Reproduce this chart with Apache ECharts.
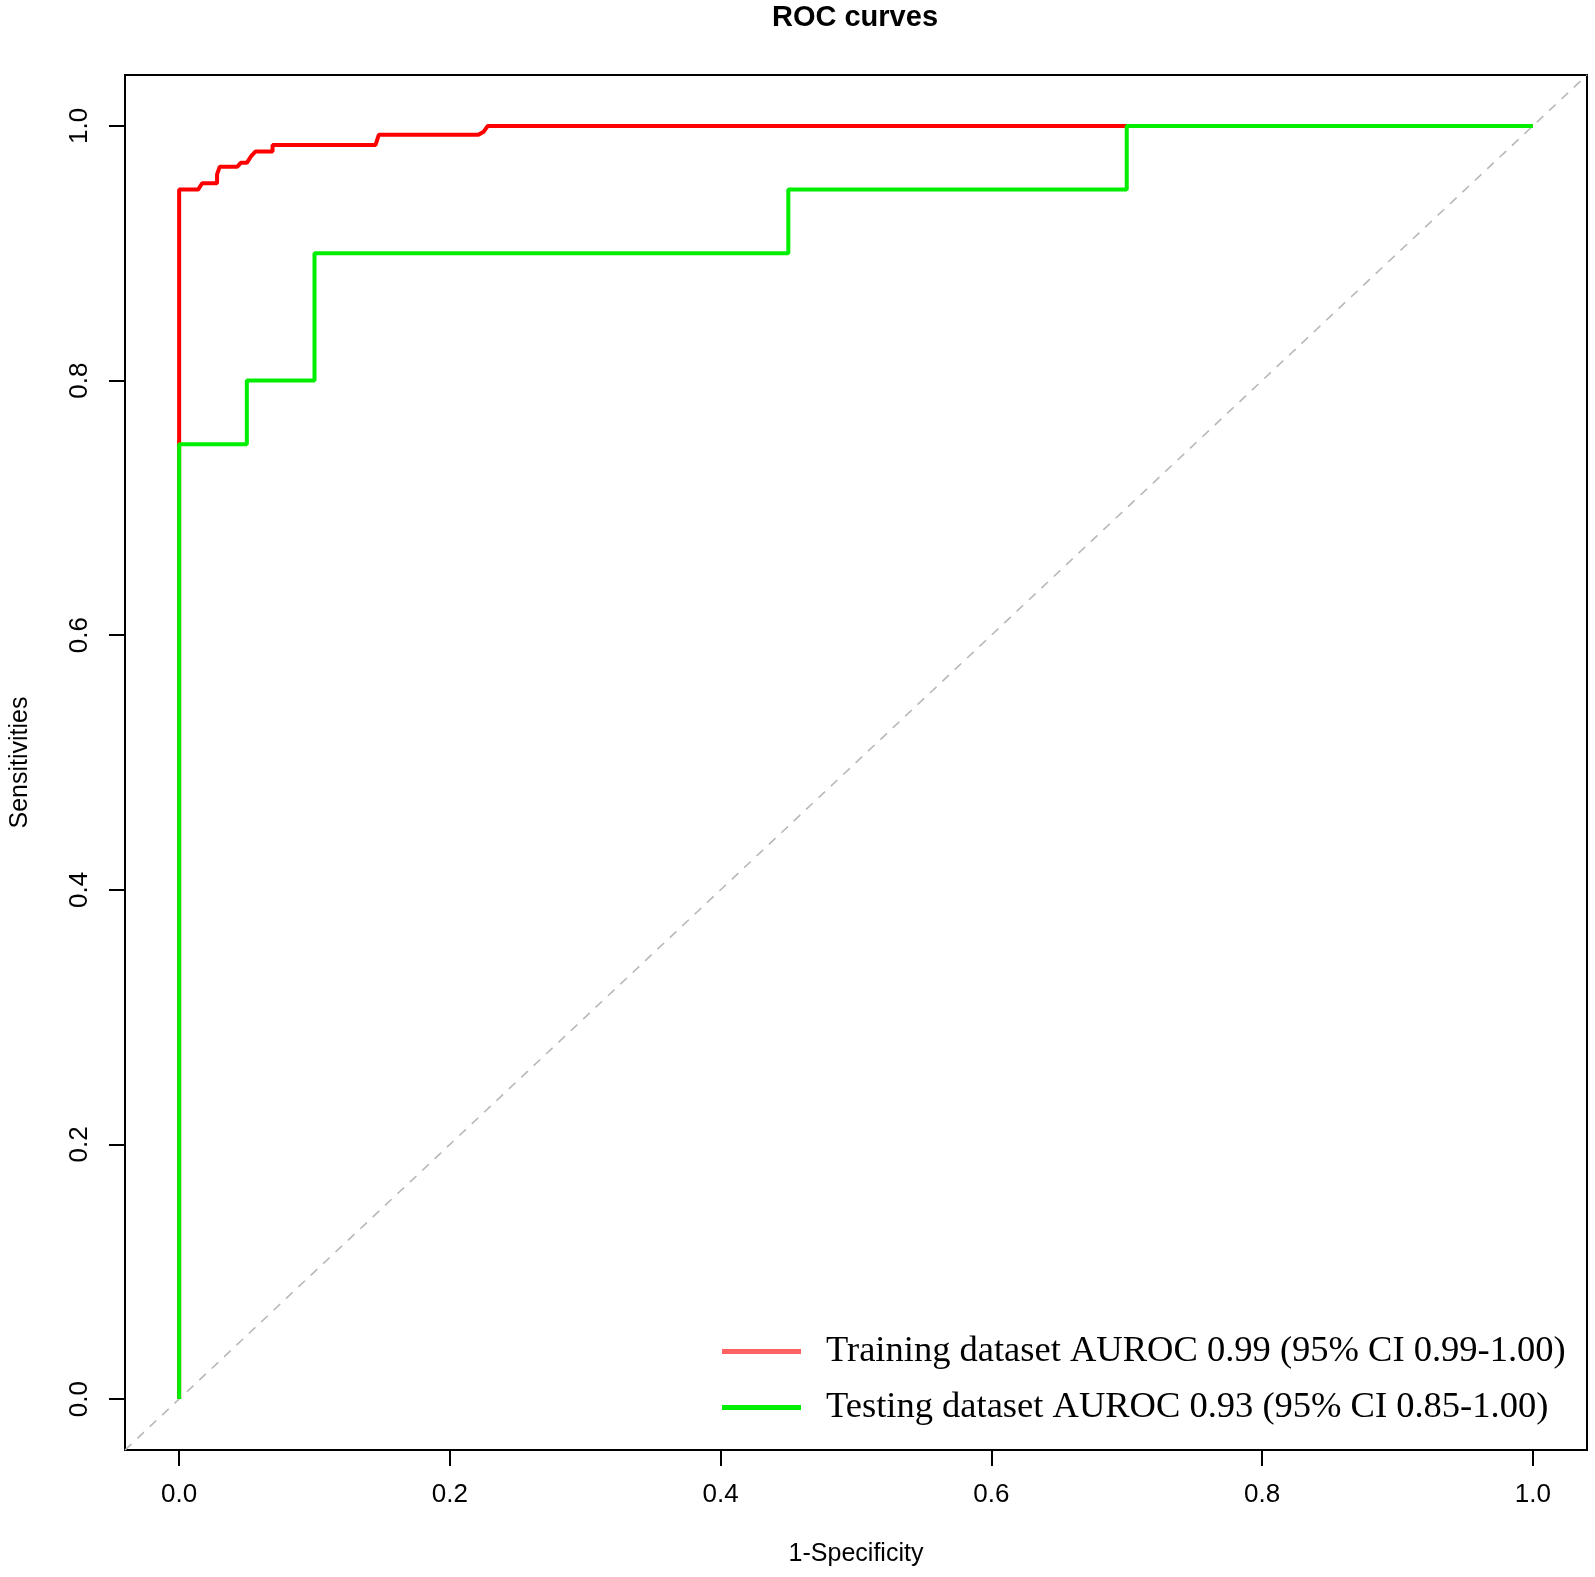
<!DOCTYPE html>
<html>
<head>
<meta charset="utf-8">
<title>ROC curves</title>
<script src="https://cdn.jsdelivr.net/npm/echarts@6/dist/echarts.min.js"></script>
<style>
  html, body { margin: 0; padding: 0; background: #fff; }
  #chart { width: 1595px; height: 1577px; }
</style>
</head>
<body>
<div id="chart"></div>
<script>
// ROC points, [1 - specificity, sensitivity]
var trainingRoc = [
  [0, 0], [0, 0.95], [0.014, 0.95], [0.017, 0.955], [0.028, 0.955],
  [0.028, 0.962], [0.030, 0.968], [0.043, 0.968], [0.0455, 0.971],
  [0.050, 0.971], [0.053, 0.976], [0.0565, 0.980], [0.069, 0.980],
  [0.069, 0.985], [0.145, 0.985], [0.1475, 0.993], [0.221, 0.993],
  [0.225, 0.9955], [0.228, 1.0], [1, 1]
];
var testingRoc = [
  [0, 0], [0, 0.75], [0.05, 0.75], [0.05, 0.80], [0.10, 0.80],
  [0.10, 0.90], [0.45, 0.90], [0.45, 0.95], [0.70, 0.95], [0.70, 1.0],
  [1, 1]
];
var chanceLine = [[-0.04, -0.04], [1.04, 1.04]];
var tickValues = [0, 0.2, 0.4, 0.6, 0.8, 1.0];
var seriesNames = [
  "Training dataset AUROC 0.99 (95% CI 0.99-1.00)",
  "Testing dataset AUROC 0.93 (95% CI 0.85-1.00)"
];

var sans = "'Liberation Sans', Arial, sans-serif";
var serif = "'Liberation Serif', 'Times New Roman', serif";

function axisOf(name, isY) {
  return {
    type: "value",
    min: -0.04,
    max: 1.04,
    name: name,
    nameLocation: "middle",
    nameGap: 92,
    nameTextStyle: { fontFamily: sans, fontSize: 25, color: "#000" },
    // box comes from the grid border, ticks sit on its edge
    axisLine: { show: false, onZero: false },
    splitLine: { show: false },
    axisTick: {
      show: true,
      inside: false,
      length: 16,
      customValues: tickValues,
      lineStyle: { color: "#000", width: 2 }
    },
    axisLabel: {
      customValues: tickValues,
      margin: 32,
      rotate: isY ? 90 : 0,
      fontFamily: sans,
      fontSize: 26,
      color: "#000",
      formatter: function (v) { return v.toFixed(1); }
    }
  };
}

var chart = echarts.init(document.getElementById("chart"), null, { renderer: "canvas" });

chart.setOption({
  backgroundColor: "#fff",
  animation: false,
  title: {
    text: "ROC curves",
    left: 855,
    top: 3,
    padding: 0,
    textAlign: "center",
    textStyle: { fontFamily: sans, fontSize: 29, fontWeight: "bold", color: "#000" }
  },
  grid: {
    left: 123,
    top: 75,
    width: 1464,
    height: 1375,
    show: true,
    borderColor: "#000",
    borderWidth: 2,
    backgroundColor: "transparent"
  },
  xAxis: axisOf("1-Specificity", false),
  yAxis: axisOf("Sensitivities", true),
  legend: {
    orient: "vertical",
    left: 717,
    top: 1328,
    itemWidth: 79,
    itemHeight: 5,
    itemGap: 19,
    icon: "rect",
    selectedMode: false,
    textStyle: {
      fontFamily: serif,
      fontSize: 36.5,
      lineHeight: 36,
      color: "#000",
      padding: [0, 0, 0, 20]
    },
    data: [
      { name: seriesNames[0], itemStyle: { color: "#ff6262" } },
      { name: seriesNames[1], itemStyle: { color: "#00ee00" } }
    ]
  },
  series: [
    {
      name: "chance",
      type: "line",
      data: chanceLine,
      showSymbol: false,
      silent: true,
      lineStyle: { color: "#b8b8b8", width: 1.6, type: [9, 8] },
      z: 1
    },
    {
      name: seriesNames[0],
      type: "line",
      data: trainingRoc,
      showSymbol: false,
      lineStyle: { color: "#ff0000", width: 4 },
      itemStyle: { color: "#ff0000" },
      z: 2
    },
    {
      name: seriesNames[1],
      type: "line",
      data: testingRoc,
      showSymbol: false,
      lineStyle: { color: "#00ee00", width: 4 },
      itemStyle: { color: "#00ee00" },
      z: 3
    }
  ]
});
</script>
</body>
</html>
